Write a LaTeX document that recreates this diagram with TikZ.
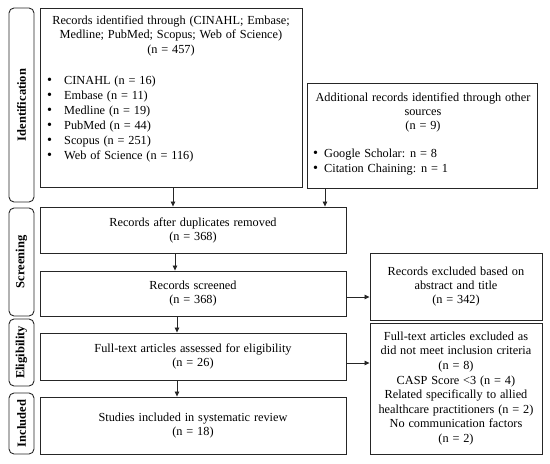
\documentclass[tikz,border=0pt]{standalone}
\usepackage{fontspec}
\setmainfont[WordSpace={1.25,1,1}]{Liberation Serif}
\usetikzlibrary{arrows.meta}
\newcommand{\blt}[1]{\makebox[#1][l]{\scalebox{1.15}{\textbullet}}}
\begin{document}
\begin{tikzpicture}[x=1pt,y=-1pt,
  box/.style={draw=black!85, line width=0.9pt, inner sep=2pt},
  txt/.style={font=\fontsize{12.3}{14}\selectfont, align=center},
  lst/.style={font=\fontsize{12.3}{15}\selectfont, align=left, anchor=north west, inner sep=0pt},
  side/.style={draw=black!85, line width=0.9pt, rounded corners=5pt, rotate=90,
    minimum height=25pt, inner sep=0pt, font=\bfseries\fontsize{12.5}{14}\selectfont},
  arr/.style={draw=black!85, line width=0.8pt, -{Triangle[length=5pt,width=4.5pt]}}]
\useasboundingbox (0,0) rectangle (550,464);
% side labels
\node[side, minimum width=194pt] (sid) at (21.5,105) {Identification};
\node[side, minimum width=108pt] (sscr) at (21.5,262) {Screening};
\node[side, minimum width=67pt] (selig) at (21.5,352.5) {Eligibility};
\node[side, minimum width=61pt] (sinc) at (21.5,423.5) {Included};
% boxes
\node[box, minimum width=262pt, minimum height=179pt] (id) at (171,97.5) {};
\node[txt, anchor=north] (idh) at (171,12) {Records identified through (CINAHL; Embase;\\Medline; PubMed; Scopus; Web of Science)\\[1.5pt](n = 457)};
\node[lst] (idl) at (47,76) {\blt{17pt}CINAHL (n = 16)\\\blt{17pt}Embase (n = 11)\\\blt{17pt}Medline (n = 19)\\\blt{17pt}PubMed (n = 44)\\\blt{17pt}Scopus (n = 251)\\\blt{17pt}Web of Science (n = 116)};
\node[box, minimum width=230pt, minimum height=105pt] (add) at (422,135.5) {};
\node[txt, anchor=north] (addh) at (423,89) {Additional records identified through other\\sources\\(n = 9)};
\node[lst] (addl) at (313,149) {\blt{11pt}Google Scholar: n = 8\\\blt{11pt}Citation Chaining: n = 1};
\node[box, txt, minimum width=306pt, minimum height=46pt] (dup) at (193,230) {Records after duplicates removed\\(n = 368)};
\node[box, txt, minimum width=306pt, minimum height=45pt] (scr) at (193,293.5) {Records screened\\(n = 368)};
\node[box, txt, minimum width=172pt, minimum height=67pt] (exa) at (456,286.5) {Records excluded based on\\abstract and title\\(n = 342)};
\node[box, txt, minimum width=306pt, minimum height=47pt] (ft) at (193,356.5) {Full-text articles assessed for eligibility\\(n = 26)};
\node[box, txt, minimum width=306pt, minimum height=57pt] (inc) at (193,425.5) {Studies included in systematic review\\(n = 18)};
\node[box, txt, font=\fontsize{12.3}{14.6}\selectfont, minimum width=172pt, minimum height=131pt] (exb) at (456,388.5) {Full-text articles excluded as\\did not meet inclusion criteria\\(n = 8)\\CASP Score <3 (n = 4)\\Related specifically to allied\\healthcare practitioners (n = 2)\\No communication factors\\(n = 2)};
% arrows
\draw[arr] ([xshift=2pt]id.south) -- ([xshift=2pt]id.south |- dup.north);
\draw[arr] ([xshift=-97pt]add.south) -- ([xshift=-97pt]add.south |- dup.north);
\draw[arr] ([xshift=-18pt]dup.south) -- ([xshift=-18pt]dup.south |- scr.north);
\draw[arr] ([xshift=-16pt]scr.south) -- ([xshift=-16pt]scr.south |- ft.north);
\draw[arr] ([xshift=-16pt]ft.south) -- ([xshift=-16pt]ft.south |- inc.north);
\draw[arr] ([yshift=-3.5pt]scr.east) -- ([yshift=-3.5pt]scr.east -| exa.west);
\draw[arr] ([yshift=-6.5pt]ft.east) -- ([yshift=-6.5pt]ft.east -| exb.west);
\end{tikzpicture}
\end{document}
